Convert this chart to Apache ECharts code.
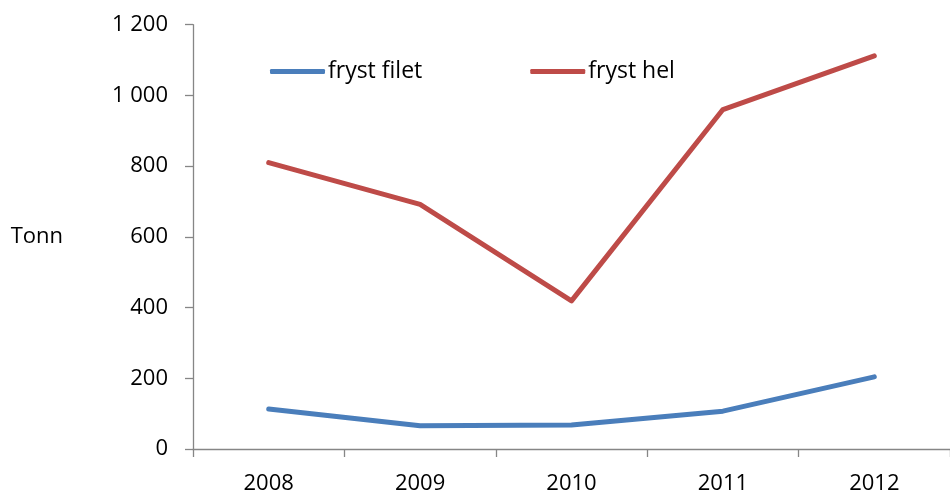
<!DOCTYPE html>
<html>
<head>
<meta charset="utf-8">
<script src="https://cdn.jsdelivr.net/npm/echarts@6/dist/echarts.min.js"></script>
<style>html,body{margin:0;padding:0;background:#fff}#c{width:950px;height:495px}</style>
</head>
<body>
<div id="c"></div>
<script>
const years = ['2008', '2009', '2010', '2011', '2012'];
const frystFilet = [113, 66, 68, 107, 204];
const frystHel = [810, 692, 419, 960, 1112];
const seriesNames = ['fryst filet', 'fryst hel'];
const yTicks = [0, 200, 400, 600, 800, 1000, 1200];

const FONT = 'Open Sans';
const axisColor = '#868686';
const chart = echarts.init(document.getElementById('c'), null, {renderer: 'canvas'});
chart.setOption({
  animation: false,
  backgroundColor: '#fff',
  textStyle: {fontFamily: FONT, color: '#000'},
  grid: {left: 193, right: -10, top: 24.7, bottom: 44.5, containLabel: false},
  legend: {
    left: 270, top: 60, padding: 0, itemGap: 108, itemWidth: 55, itemHeight: 5,
    icon: 'roundRect',
    textStyle: {fontFamily: FONT, fontSize: 23, color: '#000', padding: [0,0,0,-2]},
    data: seriesNames
  },
  xAxis: {
    type: 'category', data: years, boundaryGap: true,
    axisLine: {lineStyle: {color: axisColor, width: 1.3}},
    axisTick: {show: true, length: 8, lineStyle: {color: axisColor, width: 1.3}},
    axisLabel: {fontFamily: FONT, fontSize: 22, color: '#000', margin: 24}
  },
  yAxis: {
    type: 'value', min: yTicks[0], max: yTicks[yTicks.length-1], interval: 200,
    name: 'Tonn', nameLocation: 'middle', nameRotate: 0, nameGap: 130,
    nameTextStyle: {fontFamily: FONT, fontSize: 22, color: '#000', padding: [5,0,0,0]},
    axisLine: {show: true, lineStyle: {color: axisColor, width: 1.3}},
    axisTick: {show: true, length: 8, lineStyle: {color: axisColor, width: 1.3}},
    splitLine: {show: false},
    axisLabel: {fontFamily: FONT, fontSize: 22, color: '#000', margin: 25,
      formatter: v => v >= 1000 ? Math.floor(v/1000) + ' ' + String(v%1000).padStart(3,'0') : String(v)}
  },
  series: [
    {name: seriesNames[0], type: 'line', data: frystFilet, symbol: 'none', color: '#4A7EBB',
     lineStyle: {width: 5, cap: 'round', join: 'round', color: '#4A7EBB'}},
    {name: seriesNames[1], type: 'line', data: frystHel, symbol: 'none', color: '#BE4B48',
     lineStyle: {width: 5, cap: 'round', join: 'round', color: '#BE4B48'}}
  ]
});
</script>
</body>
</html>
